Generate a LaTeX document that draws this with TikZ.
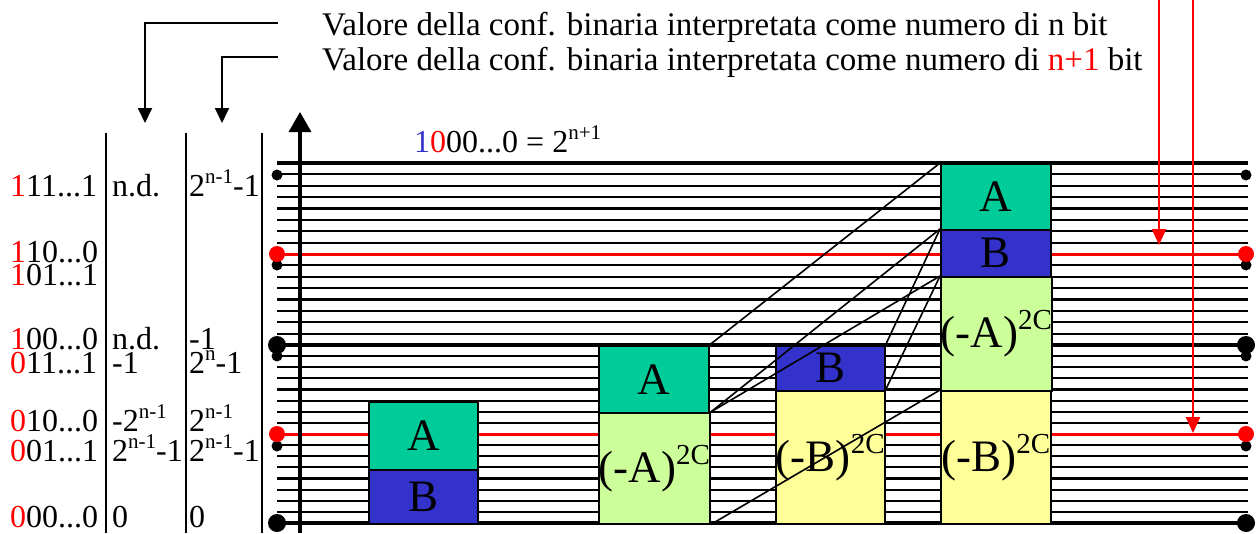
\documentclass[tikz,border=0pt]{standalone}
\usepackage{fontspec}
\setmainfont{Liberation Serif}
\usetikzlibrary{arrows.meta}
\definecolor{cA}{RGB}{0,204,153}
\definecolor{cB}{RGB}{51,51,204}
\definecolor{cNA}{RGB}{204,255,153}
\definecolor{cNB}{RGB}{255,255,153}
\definecolor{cR}{RGB}{255,0,0}
\newcommand{\sps}[1]{\raisebox{0.40em}{\fontsize{21}{21}\selectfont #1}}
\newcommand{\bsup}[1]{\raisebox{0.40em}{\fontsize{29}{29}\selectfont #1}}
\newcommand{\rd}[1]{\textcolor{cR}{#1}}
\begin{document}
\begin{tikzpicture}[x=1pt,y=-1pt,
  lab/.style={anchor=base west, inner sep=0, font=\fontsize{32}{32}\selectfont},
  toplab/.style={anchor=base west, inner sep=0, font=\fontsize{33}{33}\selectfont},
  boxlbl/.style={draw=black, line width=1.5pt, inner sep=0, anchor=north west, font=\fontsize{45}{45}\selectfont},
  thin/.style={line width=2.1pt},
  thick/.style={line width=4pt},
  redl/.style={line width=3pt, draw=cR},
  conn/.style={line width=1.6pt},
  arr/.style={line width=2pt, -{Triangle[width=14pt,length=15pt]}},
  rarr/.style={line width=2.4pt, draw=cR, fill=cR, -{Triangle[width=14pt,length=16pt]}},
]
\useasboundingbox (0,0) rectangle (1258,533);

% grid lines
\foreach \i in {0,...,16} {\draw[thin] (277,{163+11.375*\i}) -- (1248,{163+11.375*\i});}
\foreach \i in {0,...,16} {\draw[thin] (277,{345+11.125*\i}) -- (1248,{345+11.125*\i});}
\draw[thick] (277,163) -- (1248,163);
\draw[thick] (277,345) -- (1248,345);
\draw[thick] (277,523) -- (1248,523);
\draw[redl] (277,254) -- (1248,254);
\draw[redl] (277,434) -- (1248,434);

% dots
\foreach \x in {277,1246} {
  \fill (\x,175) circle (5.5);
  \fill (\x,265) circle (5.5);
  \fill (\x,356) circle (5.5);
  \fill (\x,446) circle (5.5);
  \fill[cR] (\x,254) circle (8);
  \fill[cR] (\x,434) circle (8);
  \fill (\x,345) circle (9);
  \fill (\x,523) circle (9);
}

% vertical axis
\coordinate (axb) at (300,533);
\coordinate (axt) at (300,112);
\draw[line width=3.5pt, -{Triangle[width=22pt,length=20pt]}] (axb) -- (axt);

% left column separators
\draw[line width=2pt] (106,133) -- (106,533);
\draw[line width=2pt] (186,133) -- (186,533);
\draw[line width=2pt] (262,133) -- (262,533);

% boxes
\node[boxlbl, fill=cA, minimum width=109pt, minimum height=68pt] (b1a) at (368,401) {A};
\node[boxlbl, fill=cB, minimum width=109pt, minimum height=54pt] (b1b) at (368,469) {B};

\node[boxlbl, fill=cA, minimum width=110pt, minimum height=67pt] (b2a) at (598,345) {A};
\node[boxlbl, fill=cNA, minimum width=110pt, minimum height=111pt] (b2na) at (598,412) {(-A)\bsup{2C}};

\node[boxlbl, fill=cB, minimum width=109pt, minimum height=45pt] (b3b) at (775,345) {B};
\node[boxlbl, fill=cNB, minimum width=109pt, minimum height=133pt] (b3nb) at (775,390) {(-B)\bsup{2C}};

\node[boxlbl, fill=cA, minimum width=110pt, minimum height=66pt] (b4a) at (940,163) {A};
\node[boxlbl, fill=cB, minimum width=110pt, minimum height=47pt] (b4b) at (940,229) {B};
\node[boxlbl, fill=cNA, minimum width=110pt, minimum height=114pt] (b4na) at (940,276) {(-A)\bsup{2C}};
\node[boxlbl, fill=cNB, minimum width=110pt, minimum height=133pt] (b4nb) at (940,390) {(-B)\bsup{2C}};

% diagonal connectors
\draw[conn] (b2a.north east) -- (b4a.north west);
\draw[conn] (b2na.north east) -- (b4b.north west);
\draw[conn] (b2na.north east) -- (b4na.north west);
\draw[conn] (b3b.north east) -- (b4b.north west);
\draw[conn] (b3nb.north east) -- (b4na.north west);
\draw[conn] (b2na.south east) -- (b4nb.north west);

% top texts
\node[toplab] (t1) at (322,35) {Valore della conf. binaria interpretata come numero di n bit};
\node[toplab] (t2) at (322,70) {Valore della conf. binaria interpretata come numero di \rd{n+1} bit};
\coordinate (t1e) at (278,23);
\coordinate (t2e) at (278,57);
\coordinate (a1) at (145,123);
\coordinate (a2) at (222,123);
\draw[arr] (t1e) -| (a1);
\draw[arr] (t2e) -| (a2);

% red arrows
\coordinate (r1s) at (1159,0);
\coordinate (r1e) at (1159,245);
\coordinate (r2s) at (1193,0);
\coordinate (r2e) at (1193,433);
\draw[rarr] (r1s) -- (r1e);
\draw[rarr] (r2s) -- (r2e);

% 1000...0 label
\node[lab] (top) at (414,152) {\textcolor{cB}{1}\rd{0}00...0 = 2\sps{n+1}};

% left labels
\node[lab] (c11) at (10,196) {\rd{1}11...1};
\node[lab] (c12) at (112,196) {n.d.};
\node[lab] (c13) at (189,196) {2\sps{n-1}-1};

\node[lab] (c21) at (10,262) {\rd{1}10...0};
\node[lab] (c31) at (10,285) {\rd{1}01...1};

\node[lab] (c41) at (10,349) {\rd{1}00...0};
\node[lab] (c42) at (112,349) {n.d.};
\node[lab] (c43) at (189,349) {-1};

\node[lab] (c51) at (10,373) {\rd{0}11...1};
\node[lab] (c52) at (112,373) {-1};
\node[lab] (c53) at (189,373) {2\sps{n}-1};

\node[lab] (c61) at (10,431) {\rd{0}10...0};
\node[lab] (c62) at (112,431) {-2\sps{n-1}};
\node[lab] (c63) at (189,431) {2\sps{n-1}};

\node[lab] (c71) at (10,461) {\rd{0}01...1};
\node[lab] (c72) at (112,461) {2\sps{n-1}-1};
\node[lab] (c73) at (189,461) {2\sps{n-1}-1};

\node[lab] (c81) at (10,527) {\rd{0}00...0};
\node[lab] (c82) at (112,527) {0};
\node[lab] (c83) at (189,527) {0};
\end{tikzpicture}
\end{document}
